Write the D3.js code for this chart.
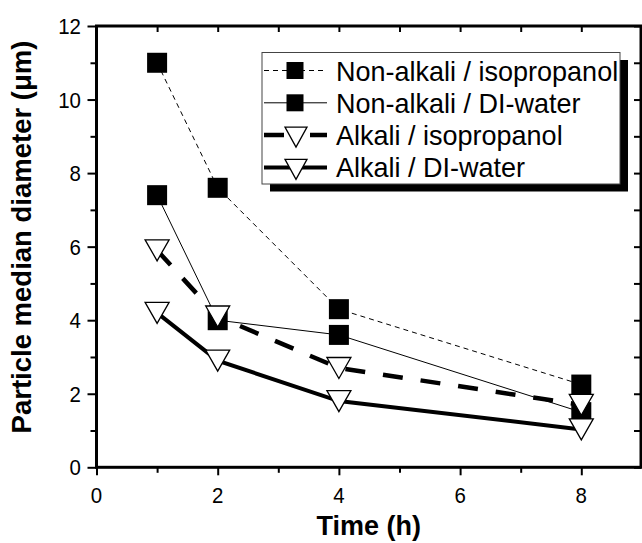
<!DOCTYPE html>
<html>
<head>
<meta charset="utf-8">
<script src="https://cdn.jsdelivr.net/npm/d3@7"></script>
<style>
html,body{margin:0;padding:0;background:#fff;}
svg{display:block;font-family:"Liberation Sans",Arial,sans-serif;}
</style>
</head>
<body>
<svg id="chart" width="642" height="543"></svg>
<script>
// ---- data ----
const times = [1, 2, 4, 8];
const nonAlkaliIso = [11.0, 7.6, 4.3, 2.25];
const nonAlkaliDI  = [7.4, 4.0, 3.6, 1.5];
const alkaliIso    = [5.9, 4.1, 2.7, 1.7];
const alkaliDI     = [4.2, 2.9, 1.8, 1.03];
const seriesNames  = ["Non-alkali / isopropanol", "Non-alkali / DI-water", "Alkali / isopropanol", "Alkali / DI-water"];
const xTicks = [0, 2, 4, 6, 8];
const xMinor = [1, 3, 5, 7];
const yTicks = [0, 2, 4, 6, 8, 10, 12];
const yMinor = [1, 3, 5, 7, 9, 11];
const xTitle = "Time (h)";
const yTitle = "Particle median diameter (\u03bcm)";

const series = [
  {name: seriesNames[0], values: nonAlkaliIso, marker: "square",   width: 1,   dash: "5,4",   legDash: "5,4"},
  {name: seriesNames[1], values: nonAlkaliDI,  marker: "square",   width: 1,   dash: null,    legDash: null},
  {name: seriesNames[2], values: alkaliIso,    marker: "triangle", width: 4.5, dash: "20,18", legDash: "20,26"},
  {name: seriesNames[3], values: alkaliDI,     marker: "triangle", width: 4,   dash: null,    legDash: null}
];

const svg = d3.select("#chart");
const L = 96.5, R = 641, T = 26, B = 467.3;
const x = d3.scaleLinear().domain([0, 9]).range([L, L + 9 * 60.6]);
const y = d3.scaleLinear().domain([0, 12]).range([B, T]);

// ---- axes ticks ----
function tickGroup(axis, tx, ty) {
  const g = svg.append("g").attr("transform", `translate(${tx},${ty})`).call(axis);
  g.select(".domain").remove();
  g.selectAll(".tick line").attr("stroke", "#000").attr("stroke-width", 2);
  g.selectAll(".tick text").remove();
  return g;
}
tickGroup(d3.axisBottom(x).tickValues(xTicks).tickSize(8), 0, B);
tickGroup(d3.axisBottom(x).tickValues(xMinor).tickSize(5.5), 0, B);
tickGroup(d3.axisTop(x).tickValues(xTicks.concat(xMinor)).tickSize(-6), 0, T);
tickGroup(d3.axisLeft(y).tickValues(yTicks).tickSize(9), L, 0);
tickGroup(d3.axisLeft(y).tickValues(yMinor).tickSize(6), L, 0);
tickGroup(d3.axisRight(y).tickValues(yTicks.concat(yMinor)).tickSize(-7), R, 0);

// tick labels (slightly condensed, like the original)
function condensed(sel, size, factor) {
  sel.attr("font-size", size).each(function() {
    const w = this.getComputedTextLength();
    d3.select(this).attr("textLength", w * factor).attr("lengthAdjust", "spacingAndGlyphs");
  });
}
svg.append("g").selectAll("text").data(xTicks).join("text")
  .attr("x", d => x(d)).attr("y", 502.5)
  .attr("text-anchor", "middle").text(d => d).call(condensed, 22, 0.93);
svg.append("g").selectAll("text").data(yTicks).join("text")
  .attr("x", 81).attr("y", d => y(d) + 8)
  .attr("text-anchor", "end").text(d => d).call(condensed, 22, 0.93);

// axis titles
svg.append("text").attr("x", (L + R) / 2).attr("y", 535)
  .attr("text-anchor", "middle").attr("font-size", 27).attr("font-weight", "bold").text(xTitle);
svg.append("text").attr("transform", "translate(31,237) rotate(-90)")
  .attr("text-anchor", "middle").attr("font-size", 27.5).attr("font-weight", "bold").text(yTitle);

// ---- lines ----
const line = d3.line().x(d => x(d[0])).y(d => y(d[1]));
series.forEach(s => {
  svg.append("path")
    .attr("d", line(times.map((t, i) => [t, s.values[i]])))
    .attr("fill", "none").attr("stroke", "#000")
    .attr("stroke-width", s.width)
    .attr("stroke-dasharray", s.dash);
});

// ---- markers ----
const triPath = (w, h) => `M${-w/2},${-h/2}L${w/2},${-h/2}L0,${h/2}Z`;
function drawMarker(g, type, cx, cy) {
  if (type === "square") {
    g.append("rect").attr("x", cx - 10).attr("y", cy - 10).attr("width", 20).attr("height", 20)
      .attr("fill", "#000");
  } else {
    g.append("path").attr("d", triPath(24, 21))
      .attr("transform", `translate(${cx},${cy})`)
      .attr("fill", "#fff").attr("stroke", "#000").attr("stroke-width", 1.3);
  }
}
const mg = svg.append("g");
series.filter(s => s.marker === "square").forEach(s =>
  times.forEach((t, i) => drawMarker(mg, s.marker, x(t), y(s.values[i]))));
series.filter(s => s.marker === "triangle").forEach(s =>
  times.forEach((t, i) => drawMarker(mg, s.marker, x(t), y(s.values[i]))));

// ---- frame ----
svg.append("rect").attr("x", L).attr("y", T).attr("width", R - L).attr("height", B - T)
  .attr("fill", "none").attr("stroke", "#000").attr("stroke-width", 3);

// ---- legend ----
const lx = 262, ly = 52.5, lw = 358, lh = 131.5;
svg.append("rect").attr("x", lx + 8).attr("y", ly + 7.5).attr("width", lw).attr("height", lh).attr("fill", "#000");
svg.append("rect").attr("x", lx).attr("y", ly).attr("width", lw).attr("height", lh)
  .attr("fill", "#fff").attr("stroke", "#444").attr("stroke-width", 1);
const lg = svg.append("g");
series.forEach((s, i) => {
  const cy = 70.5 + i * 32.3;
  lg.append("line").attr("x1", 264).attr("x2", 327).attr("y1", cy).attr("y2", cy)
    .attr("stroke", "#000").attr("stroke-width", s.width)
    .attr("stroke-dasharray", s.legDash);
  if (s.marker === "square") {
    lg.append("rect").attr("x", 295 - 8.5).attr("y", cy - 8.5).attr("width", 17).attr("height", 17).attr("fill", "#000");
  } else {
    lg.append("path").attr("d", triPath(22, 20)).attr("transform", `translate(296,${cy + 2})`)
      .attr("fill", "#fff").attr("stroke", "#000").attr("stroke-width", 1.3);
  }
  lg.append("text").attr("x", 336).attr("y", cy + 10).text(s.name).call(condensed, 28.5, 27 / 28.5);
});
</script>
</body>
</html>
